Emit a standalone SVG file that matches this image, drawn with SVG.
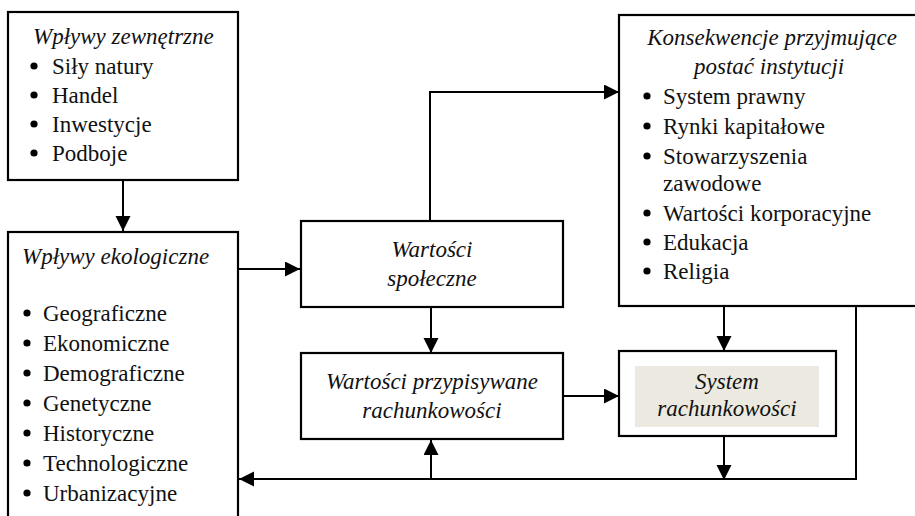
<svg xmlns="http://www.w3.org/2000/svg" width="915" height="516" viewBox="0 0 915 516">
<defs>
<style>
.box{fill:#fff;stroke:#000;stroke-width:2.2}
text{font-family:'Liberation Serif','DejaVu Serif',serif;font-size:23px;fill:#111}
.i{font-style:italic}
.c{text-anchor:middle}
.con{fill:none;stroke:#000;stroke-width:2}
.b{fill:#000}
</style>
<marker id="ah" markerUnits="userSpaceOnUse" markerWidth="16" markerHeight="16" refX="15" refY="7.5" orient="auto">
<path d="M0,0 L15,7.5 L0,15 z" fill="#000"/>
</marker>
</defs>
<rect width="915" height="516" fill="#fff"/>
<g id="connectors">
<line class="con" x1="123" y1="181" x2="123" y2="231" marker-end="url(#ah)"/>
<line class="con" x1="239" y1="269" x2="300" y2="269" marker-end="url(#ah)"/>
<path class="con" d="M430,221 V92 H619" marker-end="url(#ah)"/>
<line class="con" x1="431" y1="308" x2="431" y2="353" marker-end="url(#ah)"/>
<line class="con" x1="563" y1="396" x2="619" y2="396" marker-end="url(#ah)"/>
<line class="con" x1="724" y1="307" x2="724" y2="351" marker-end="url(#ah)"/>
<line class="con" x1="724" y1="437" x2="724" y2="480" marker-end="url(#ah)"/>
<path class="con" d="M856,307 V479 H239" marker-end="url(#ah)"/>
<line class="con" x1="431" y1="479" x2="431" y2="440" marker-end="url(#ah)"/>
</g>
<g id="wplywy-zewnetrzne">
<rect class="box" x="8" y="12" width="230" height="168"/>
<text class="i" x="33" y="44" font-family="Liberation Serif, serif">Wpływy zewnętrzne</text>
<circle class="b" cx="34" cy="66" r="3.6"/><text x="52" y="74" font-family="Liberation Serif, serif">Siły natury</text>
<circle class="b" cx="34" cy="95" r="3.6"/><text x="52" y="103" font-family="Liberation Serif, serif">Handel</text>
<circle class="b" cx="34" cy="124" r="3.6"/><text x="52" y="132" font-family="Liberation Serif, serif">Inwestycje</text>
<circle class="b" cx="34" cy="153" r="3.6"/><text x="52" y="161" font-family="Liberation Serif, serif">Podboje</text>
</g>
<g id="wplywy-ekologiczne">
<rect class="box" x="8" y="232" width="230" height="300"/>
<text class="i" x="22" y="264">Wpływy ekologiczne</text>
<circle class="b" cx="27" cy="313" r="3.6"/><text x="43" y="321">Geograficzne</text>
<circle class="b" cx="27" cy="343" r="3.6"/><text x="43" y="351">Ekonomiczne</text>
<circle class="b" cx="27" cy="373" r="3.6"/><text x="43" y="381">Demograficzne</text>
<circle class="b" cx="27" cy="403" r="3.6"/><text x="43" y="411">Genetyczne</text>
<circle class="b" cx="27" cy="433" r="3.6"/><text x="43" y="441">Historyczne</text>
<circle class="b" cx="27" cy="463" r="3.6"/><text x="43" y="471">Technologiczne</text>
<circle class="b" cx="27" cy="493" r="3.6"/><text x="43" y="501">Urbanizacyjne</text>
</g>
<g id="wartosci-spoleczne">
<rect class="box" x="301" y="221" width="262" height="86"/>
<text class="i c" x="432" y="257">Wartości</text>
<text class="i c" x="432" y="286">społeczne</text>
</g>
<g id="wartosci-przypisywane">
<rect class="box" x="301" y="353" width="262" height="86"/>
<text class="i c" x="432" y="389">Wartości przypisywane</text>
<text class="i c" x="432" y="418">rachunkowości</text>
</g>
<g id="konsekwencje">
<rect class="box" x="619" y="15" width="310" height="291"/>
<text class="i c" x="772" y="45">Konsekwencje przyjmujące</text>
<text class="i c" x="769" y="74">postać instytucji</text>
<circle class="b" cx="647" cy="96" r="3.6"/><text x="663" y="104">System prawny</text>
<circle class="b" cx="647" cy="126" r="3.6"/><text x="663" y="134">Rynki kapitałowe</text>
<circle class="b" cx="647" cy="156" r="3.6"/><text x="663" y="164">Stowarzyszenia</text>
<text x="663" y="191">zawodowe</text>
<circle class="b" cx="647" cy="213" r="3.6"/><text x="663" y="221">Wartości korporacyjne</text>
<circle class="b" cx="647" cy="242" r="3.6"/><text x="663" y="250">Edukacja</text>
<circle class="b" cx="647" cy="271" r="3.6"/><text x="663" y="279">Religia</text>
</g>
<g id="system-rachunkowosci">
<rect class="box" x="619" y="351" width="217" height="85"/>
<rect x="635" y="366" width="184" height="61" fill="#ECEAE0"/>
<text class="i c" x="727" y="389">System</text>
<text class="i c" x="727" y="416">rachunkowości</text>
</g>
</svg>
